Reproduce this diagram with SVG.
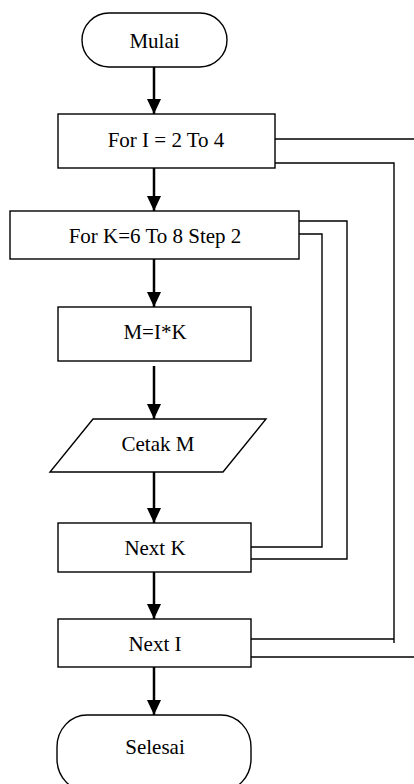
<svg xmlns="http://www.w3.org/2000/svg" width="414" height="784" viewBox="0 0 414 784">
<style>
.shape{fill:#fff;stroke:#000;stroke-width:1.4}
text{font-family:'Liberation Serif','Times New Roman','DejaVu Serif',serif;font-size:21px;fill:#000;text-anchor:middle}
.flow{stroke:#000;stroke-width:2.5;fill:none}
.loop{stroke:#000;stroke-width:1.4;fill:none}
</style>
<defs>
<marker id="ah" viewBox="0 0 15 14" refX="15" refY="7" markerUnits="userSpaceOnUse" markerWidth="15" markerHeight="14" orient="auto">
<path d="M0,0 L15,7 L0,14 Z" fill="#000"/>
</marker>
</defs>
<rect width="414" height="784" fill="#fff"/>
<g id="connectors">
<line class="flow" x1="154" y1="67" x2="154" y2="114" marker-end="url(#ah)"/>
<line class="flow" x1="154" y1="168" x2="154" y2="211" marker-end="url(#ah)"/>
<line class="flow" x1="154" y1="259" x2="154" y2="307" marker-end="url(#ah)"/>
<line class="flow" x1="154" y1="366" x2="154" y2="419" marker-end="url(#ah)"/>
<line class="flow" x1="154" y1="472" x2="154" y2="523" marker-end="url(#ah)"/>
<line class="flow" x1="154" y1="572" x2="154" y2="619" marker-end="url(#ah)"/>
<line class="flow" x1="154" y1="667" x2="154" y2="715" marker-end="url(#ah)"/>
<polyline class="loop" points="275,139 414,139"/>
<polyline class="loop" points="275,163 394,163 394,643"/>
<polyline class="loop" points="251,639 394,639"/>
<polyline class="loop" points="251,657 414,657"/>
<polyline class="loop" points="299,221 347,221 347,559 251,559"/>
<polyline class="loop" points="299,234 322,234 322,547 251,547"/>
</g>
<g id="mulai">
<rect class="shape" x="82" y="13" width="145" height="54" rx="27" ry="27"/>
<text x="154.5" y="48" font-family="Liberation Serif, serif">Mulai</text>
</g>
<g id="for-i">
<rect class="shape" x="58" y="114" width="217" height="54"/>
<text x="166" y="147" font-family="Liberation Serif, serif">For I = 2 To 4</text>
</g>
<g id="for-k">
<rect class="shape" x="10" y="211" width="289" height="48"/>
<text x="155" y="243" font-family="Liberation Serif, serif">For K=6 To 8 Step 2</text>
</g>
<g id="m-ik">
<rect class="shape" x="58" y="307" width="193" height="54"/>
<text x="155" y="339" font-family="Liberation Serif, serif">M=I*K</text>
</g>
<g id="cetak-m">
<polygon class="shape" points="93,419 266,419 223,472 50,472"/>
<text x="158" y="451" font-family="Liberation Serif, serif">Cetak M</text>
</g>
<g id="next-k">
<rect class="shape" x="58" y="523" width="193" height="49"/>
<text x="155" y="555" font-family="Liberation Serif, serif">Next K</text>
</g>
<g id="next-i">
<rect class="shape" x="58" y="619" width="193" height="48"/>
<text x="155" y="651" font-family="Liberation Serif, serif">Next I</text>
</g>
<g id="selesai">
<rect class="shape" x="57" y="715" width="194" height="76" rx="30" ry="32"/>
<text x="155" y="754" font-family="Liberation Serif, serif">Selesai</text>
</g>
</svg>
